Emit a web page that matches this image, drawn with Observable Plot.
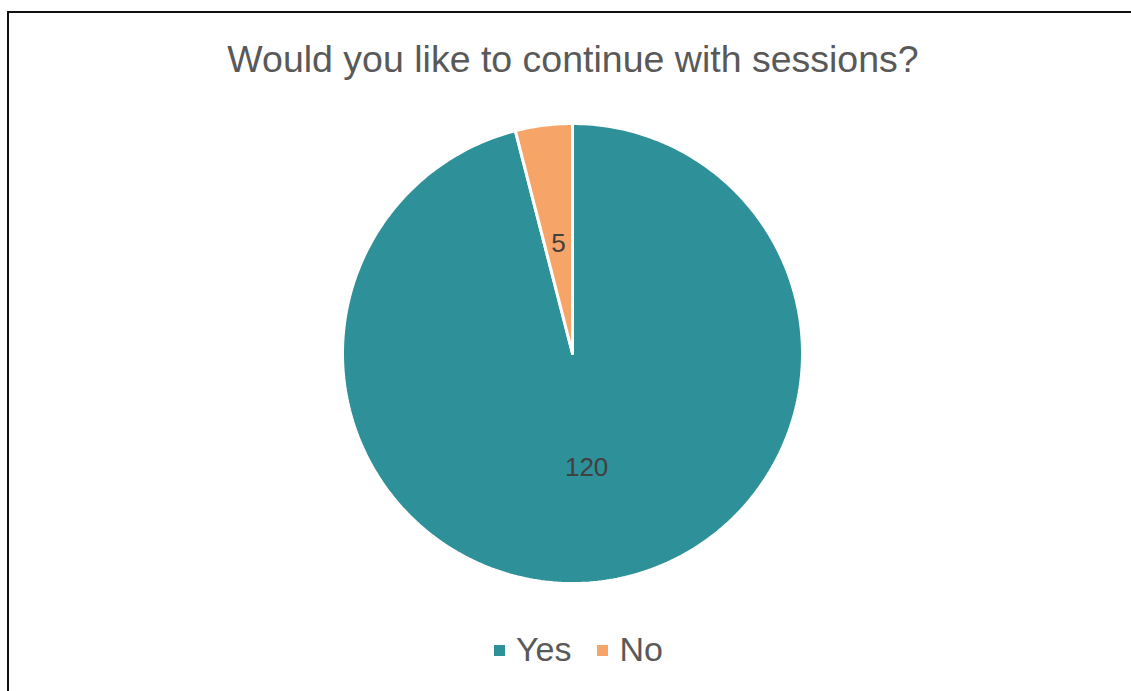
<!DOCTYPE html>
<html>
<head>
<meta charset="utf-8">
<script src="https://cdn.jsdelivr.net/npm/d3@7"></script>
<script src="https://cdn.jsdelivr.net/npm/@observablehq/plot@0.6"></script>
<style>
  html, body { margin: 0; padding: 0; background: #fff; }
  body { width: 1131px; height: 691px; position: relative; overflow: hidden; font-family: "Liberation Sans", Arial, sans-serif; }
  #frame { position: absolute; left: 7px; top: 11px; right: -10px; bottom: -10px; border-left: 2px solid #111; border-top: 2px solid #111; }
  #title { position: absolute; left: 0; width: 1146px; top: 41px; text-align: center; font-size: 37.5px; line-height: 1; color: #595959; white-space: nowrap; }
  #chart { position: absolute; left: 0; top: 113px; }
  #legend { position: absolute; top: 632px; left: 494px; display: flex; align-items: center; font-size: 34px; line-height: 1; color: #595959; }
  #legend span.item { display: flex; align-items: center; margin-right: 26px; }
  #legend span.sw { display: inline-block; width: 11px; height: 11px; margin-right: 11px; position: relative; top: 1px; }
</style>
</head>
<body>
<div id="frame"></div>
<div id="title">Would you like to continue with sessions?</div>
<div id="chart"></div>
<div id="legend"></div>
<script>
const categories = ["Yes", "No"];
const values = [120, 5];
const colors = ["#2E9098", "#F6A468"];

const total = d3.sum(values);
const rows = [];
const labels = [];
let acc = 0;
categories.forEach((c, i) => {
  const a0 = acc / total * 2 * Math.PI;
  acc += values[i];
  const a1 = acc / total * 2 * Math.PI;
  const n = Math.max(4, Math.ceil((a1 - a0) / (2 * Math.PI) * 360));
  rows.push({key: c, x: 0, y: 0});
  for (let k = 0; k <= n; k++) {
    const a = a0 + (a1 - a0) * k / n;
    rows.push({key: c, x: Math.sin(a), y: Math.cos(a)});
  }
  rows.push({key: c, x: 0, y: 0});
  const am = (a0 + a1) / 2;
  labels.push({key: c, value: values[i], x: 0.49 * Math.sin(am), y: 0.49 * Math.cos(am)});
});

const cx = 572, cy = 240, r = 230;
const chart = Plot.plot({
  width: 1131,
  height: 480,
  margin: 0,
  x: {domain: [-1, 1], range: [cx - r, cx + r], axis: null},
  y: {domain: [-1, 1], range: [cy + r, cy - r], axis: null},
  color: {domain: categories, range: colors},
  style: {background: "transparent", fontFamily: "Liberation Sans, Arial, sans-serif"},
  marks: [
    Plot.line(rows, {x: "x", y: "y", z: "key", fill: "key", stroke: "white", strokeWidth: 3, strokeLinejoin: "miter", curve: "linear"}),
    Plot.text(labels, {x: "x", y: "y", text: d => String(d.value), fill: "#404040", fontSize: 26, dy: 2})
  ]
});
document.getElementById("chart").appendChild(chart);

const legend = document.getElementById("legend");
categories.forEach((c, i) => {
  const item = document.createElement("span");
  item.className = "item";
  const sw = document.createElement("span");
  sw.className = "sw";
  sw.style.background = colors[i];
  item.appendChild(sw);
  item.appendChild(document.createTextNode(c));
  legend.appendChild(item);
});
</script>
</body>
</html>
